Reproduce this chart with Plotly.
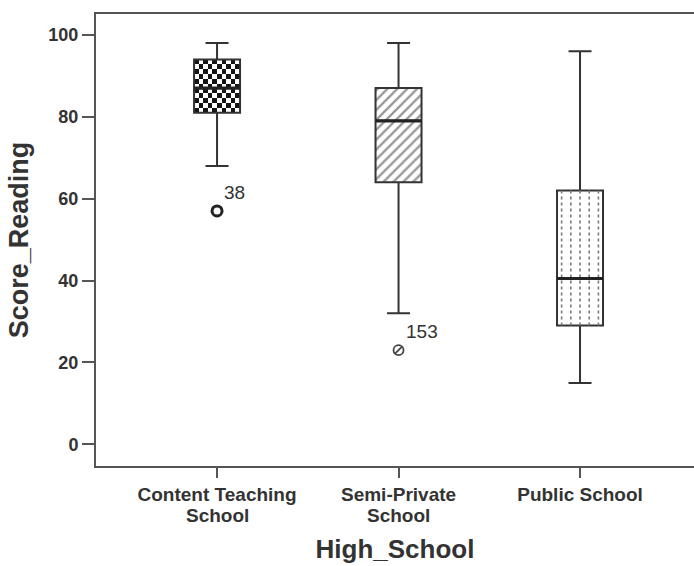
import numpy as np
import plotly.graph_objects as go

# ---- data ----
categories = ["Content Teaching<br>School", "Semi-Private<br>School", "Public School"]
positions = [0, 1, 2]
lower_whisker = [68, 32, 15]
q1 = [81, 64, 29]
median = [87, 79, 40.5]
q3 = [94, 87, 62]
upper_whisker = [98, 98, 96]
outlier_pos = [0, 1]
outlier_val = [57, 23]
outlier_ids = ["38", "153"]
y_ticks = [0, 20, 40, 60, 80, 100]

# ---- styling ----
BOX_W = 0.2534
INK = "#333333"
AXIS = "#555555"
FONT = "Liberation Sans"
XT_SIZE = 19

fig = go.Figure()

# checkerboard fill for box 1 (heatmap cells spanning the box)
n_cols, n_rows = 10, 11
p = positions[0]
hx = np.linspace(p - BOX_W / 2, p + BOX_W / 2, n_cols + 1)
hy = np.linspace(q1[0], q3[0], n_rows + 1)
hz = [[(i + j) % 2 for j in range(n_cols)] for i in range(n_rows)]
fig.add_trace(go.Heatmap(x=hx, y=hy, z=hz, colorscale=[[0, "#151515"], [1, "#ffffff"]],
                         showscale=False, hoverinfo="skip", zsmooth=False))

# diagonal hatch for box 2
fig.add_trace(go.Bar(x=[positions[1]], base=[q1[1]], y=[q3[1] - q1[1]], width=BOX_W,
                     marker=dict(color="white", line_width=0,
                                 pattern=dict(shape="/", fgcolor="#333333", size=7, solidity=0.33)),
                     hoverinfo="skip"))

# the box plot outlines, whiskers and caps
fig.add_trace(go.Box(x=positions, q1=q1, median=median, q3=q3,
                     lowerfence=lower_whisker, upperfence=upper_whisker,
                     width=BOX_W, whiskerwidth=0.5, fillcolor="rgba(0,0,0,0)",
                     line=dict(color=INK, width=2), boxpoints=False))

# dotted vertical lines for box 3
dx, dy = [], []
p = positions[2]
for k in (-2, -1, 0, 1, 2):
    xx = p + k * BOX_W / 5
    dx += [xx, xx, None]
    dy += [q1[2], q3[2], None]
fig.add_trace(go.Scatter(x=dx, y=dy, mode="lines", hoverinfo="skip",
                         line=dict(color="#7a7a7a", width=1.6, dash="3px,3px")))

# thick median lines
mx, my = [], []
for pos, m in zip(positions, median):
    mx += [pos - BOX_W / 2, pos + BOX_W / 2, None]
    my += [m, m, None]
fig.add_trace(go.Scatter(x=mx, y=my, mode="lines", hoverinfo="skip",
                         line=dict(color="#222222", width=3.2)))

# outliers
fig.add_trace(go.Scatter(x=[outlier_pos[0]], y=[outlier_val[0]], mode="markers",
                         marker=dict(symbol="circle", size=10, color="white",
                                     line=dict(color="#222222", width=3))))
fig.add_trace(go.Scatter(x=[outlier_pos[1]], y=[outlier_val[1]], mode="markers",
                         marker=dict(symbol="circle", size=10, color="white",
                                     line=dict(color="#444444", width=1.8))))
fig.add_trace(go.Scatter(x=[outlier_pos[1]], y=[outlier_val[1]], mode="markers",
                         marker=dict(symbol="line-ne", size=7,
                                     line=dict(color="#444444", width=1.8))))

for xp, yv, lab in zip(outlier_pos, outlier_val, outlier_ids):
    fig.add_annotation(x=xp, y=yv, text=lab, showarrow=False, xanchor="left", yanchor="bottom",
                       xshift=5, yshift=6, font=dict(family=FONT, size=19, color=INK))

# category labels: first line as tick text, second line placed tighter underneath
first_lines = [c.split("<br>")[0] for c in categories]
for pos, c in zip(positions, categories):
    parts = c.split("<br>")
    if len(parts) > 1:
        fig.add_annotation(x=pos, xref="x", y=0, yref="paper", text=parts[1], showarrow=False,
                           xanchor="center", yanchor="middle", yshift=-49,
                           font=dict(family=FONT, size=XT_SIZE, color=INK, weight="bold"))

fig.update_layout(
    width=694, height=566,
    margin=dict(l=96, r=0, t=14, b=100),
    plot_bgcolor="white", paper_bgcolor="white",
    showlegend=False,
    font=dict(family=FONT, color=INK),
    xaxis=dict(range=[-0.667, 2.628], tickmode="array", tickvals=positions, ticktext=first_lines,
               ticks="outside", ticklen=10, tickwidth=2, tickcolor=AXIS,
               showline=True, linecolor=AXIS, linewidth=2, mirror=True,
               showgrid=False, zeroline=False,
               tickfont=dict(family=FONT, size=XT_SIZE, color=INK, weight="bold"),
               title=dict(text="High_School", standoff=36,
                          font=dict(family=FONT, size=26, color=INK, weight="bold"))),
    yaxis=dict(range=[-5.3, 105.1], tickmode="array", tickvals=y_ticks,
               ticks="outside", ticklen=12, tickwidth=2, tickcolor=AXIS,
               showline=True, linecolor=AXIS, linewidth=2, mirror=False,
               showgrid=False, zeroline=False,
               tickfont=dict(family=FONT, size=18, color=INK, weight="bold"),
               title=dict(text="Score_Reading", standoff=12,
                          font=dict(family=FONT, size=27, color=INK, weight="bold"))),
)

fig.write_html("out.html")
